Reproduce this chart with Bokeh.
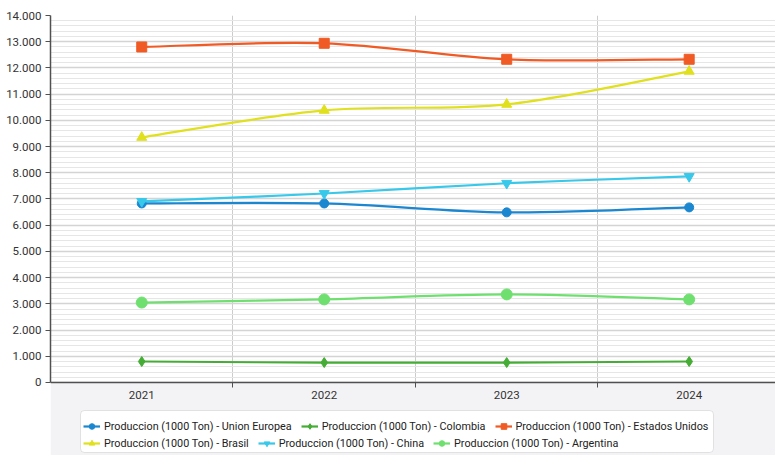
from bokeh.plotting import figure
from bokeh.models import Range1d, FixedTicker, Legend, LegendItem, BoxAnnotation, LinearAxis
from bokeh.embed import file_html
from bokeh.resources import INLINE

# ---- data ----
years = ["2021", "2022", "2023", "2024"]
union_europea = [6830, 6830, 6490, 6680]
colombia = [800, 760, 760, 800]
estados_unidos = [12800, 12940, 12330, 12330]
brasil = [9350, 10380, 10610, 11870]
china = [6910, 7210, 7600, 7860]
argentina = [3050, 3170, 3360, 3170]

y_ticks = [0, 1000, 2000, 3000, 4000, 5000, 6000, 7000, 8000, 9000, 10000, 11000, 12000, 13000, 14000]
y_tick_labels = ["0", "1.000", "2.000", "3.000", "4.000", "5.000", "6.000", "7.000",
                 "8.000", "9.000", "10.000", "11.000", "12.000", "13.000", "14.000"]

series_names = [
    "Produccion (1000 Ton) - Union Europea",
    "Produccion (1000 Ton) - Colombia",
    "Produccion (1000 Ton) - Estados Unidos",
    "Produccion (1000 Ton) - Brasil",
    "Produccion (1000 Ton) - China",
    "Produccion (1000 Ton) - Argentina",
]
series_values = [union_europea, colombia, estados_unidos, brasil, china, argentina]
colors = ["#1a87d0", "#45ad35", "#f05a24", "#e0e01e", "#38c8ea", "#6fe070"]
markers = ["circle", "diamond", "square", "triangle", "inverted_triangle", "circle"]
sizes = [9, 10, 10, 10, 10, 11]

FONT = "Roboto"
AXIS_COLOR = "#505050"

Y_MAX = 14000
Y_BOTTOM = -2785  # room below the axis for the legend

p = figure(width=775, height=455, output_backend="svg", toolbar_location=None,
           x_axis_location=None,
           x_range=Range1d(-0.5, 3.473), y_range=Range1d(Y_BOTTOM, Y_MAX),
           min_border_left=50, min_border_right=0, min_border_top=15, min_border_bottom=0)
p.outline_line_color = None
p.background_fill_color = "white"
p.border_fill_color = "white"

minor = [v for v in range(0, Y_MAX + 1, 200) if v % 1000 != 0]
p.ygrid.ticker = FixedTicker(ticks=y_ticks, minor_ticks=minor)
p.ygrid.grid_line_color = "#d4d4d4"
p.ygrid.grid_line_width = 1.5
p.ygrid.minor_grid_line_color = "#e6e6e6"
p.ygrid.minor_grid_line_width = 1
p.xgrid.ticker = FixedTicker(ticks=[0.5, 1.5, 2.5])
p.xgrid.grid_line_color = "#cccccc"
p.xgrid.grid_line_width = 1

# light area below the x axis
p.add_layout(BoxAnnotation(top=0, fill_color="#f3f3f6", fill_alpha=1.0,
                           line_color=None, level="underlay"))

p.yaxis.ticker = FixedTicker(ticks=y_ticks)
p.yaxis.bounds = (0, Y_MAX)
p.yaxis.major_label_overrides = {t: l for t, l in zip(y_ticks, y_tick_labels)}
p.yaxis.axis_line_color = AXIS_COLOR
p.yaxis.axis_line_width = 1.5
p.yaxis.major_tick_line_color = AXIS_COLOR
p.yaxis.major_tick_out = 5
p.yaxis.major_tick_in = 0
p.yaxis.minor_tick_line_color = None
p.yaxis.major_label_text_font = FONT
p.yaxis.major_label_text_font_size = "11.5px"
p.yaxis.major_label_text_color = "#333333"
p.yaxis.major_label_standoff = 4

xpos = list(range(len(years)))
xaxis = LinearAxis(fixed_location=0)
xaxis.ticker = FixedTicker(ticks=xpos, minor_ticks=[i + 0.5 for i in xpos[:-1]])
xaxis.major_label_overrides = {i: y for i, y in zip(xpos, years)}
xaxis.axis_line_color = AXIS_COLOR
xaxis.axis_line_width = 1.5
xaxis.major_tick_line_color = None
xaxis.minor_tick_line_color = AXIS_COLOR
xaxis.minor_tick_out = 5
xaxis.minor_tick_in = 0
xaxis.major_label_text_font = FONT
xaxis.major_label_text_font_size = "11.5px"
xaxis.major_label_text_color = "#333333"
xaxis.major_label_standoff = 3
p.add_layout(xaxis, "below")


def spline_segments(xs, ys):
    n = len(xs)
    out = {k: [] for k in ("x0", "y0", "x1", "y1", "cx0", "cy0", "cx1", "cy1")}
    for i in range(n - 1):
        a = max(i - 1, 0)
        d = min(i + 2, n - 1)
        out["x0"].append(xs[i]); out["y0"].append(ys[i])
        out["x1"].append(xs[i + 1]); out["y1"].append(ys[i + 1])
        out["cx0"].append(xs[i] + (xs[i + 1] - xs[a]) / 6)
        out["cy0"].append(ys[i] + (ys[i + 1] - ys[a]) / 6)
        out["cx1"].append(xs[i + 1] - (xs[d] - xs[i]) / 6)
        out["cy1"].append(ys[i + 1] - (ys[d] - ys[i]) / 6)
    return out


NAN = float("nan")
items = []
for name, vals, col, mk, sz in zip(series_names, series_values, colors, markers, sizes):
    seg = spline_segments(xpos, vals)
    p.bezier(x0=seg["x0"], y0=seg["y0"], x1=seg["x1"], y1=seg["y1"],
             cx0=seg["cx0"], cy0=seg["cy0"], cx1=seg["cx1"], cy1=seg["cy1"],
             line_color=col, line_width=2.2)
    lr = p.line(x=[NAN], y=[NAN], line_color=col, line_width=2.2)
    sr = p.scatter(x=xpos, y=vals, marker=mk, size=sz, fill_color=col, line_color=col)
    items.append(LegendItem(label=name, renderers=[lr, sr]))

# legend frame (screen units relative to the frame, y measured from its bottom)
p.add_layout(BoxAnnotation(left=30, right=663, top=45, bottom=3,
                           left_units="screen", right_units="screen",
                           top_units="screen", bottom_units="screen",
                           fill_color="white", fill_alpha=1.0,
                           line_color="#a8a8a8", line_width=1, border_radius=4))


def make_legend(its, y):
    return Legend(items=its, location=(33, y), orientation="horizontal",
                  padding=0, margin=0, spacing=9, label_standoff=4,
                  glyph_width=17, glyph_height=14, label_height=14,
                  label_text_font=FONT, label_text_font_size="10.8px",
                  label_text_color="#222222",
                  border_line_color=None, background_fill_alpha=0)


p.add_layout(make_legend(items[:3], 22))
p.add_layout(make_legend(items[3:], 5))

open("out.html", "w").write(file_html(p, INLINE))
